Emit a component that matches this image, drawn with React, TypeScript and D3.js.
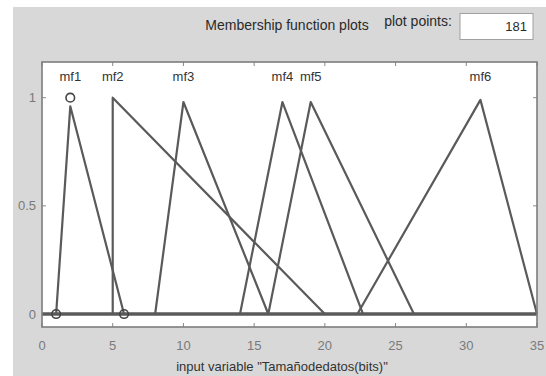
import React from "react";
import * as d3 from "d3";

// Triangular membership functions of the input variable (a = left foot, b = peak, c = right foot)
const mfNames = ["mf1", "mf2", "mf3", "mf4", "mf5", "mf6"];
const mfA = [1, 5, 8, 14, 16, 22.3];
const mfB = [2, 5, 10, 17, 19, 31];
const mfC = [5.8, 20, 16, 22.7, 26.3, 35];
const mfPeak = [0.96, 1, 0.98, 0.98, 0.98, 0.99];

const xTicks = [0, 5, 10, 15, 20, 25, 30, 35];
const yTicks = [0, 0.5, 1];
const yTickLabels = ["0", "0.5", "1"];

// vertices of the selected function (mf1)
const selectedIdx = 0;

const W = 546;
const H = 376;
const FONT = "'Liberation Sans', Arial, sans-serif";

export default function App() {
  const x = d3.scaleLinear().domain([0, 35]).range([42, 537]);
  const y = d3.scaleLinear().domain([-0.06, 1.165]).range([327, 62]);

  const line = d3
    .line<[number, number]>()
    .x((d) => x(d[0]))
    .y((d) => y(d[1]));

  const xMin = 0;
  const xMax = 35;

  const curves = mfNames.map((_, i) => {
    const pts: [number, number][] = [
      [xMin, 0],
      [mfA[i], 0],
      [mfB[i], mfPeak[i]],
      [mfC[i], 0],
      [xMax, 0],
    ];
    return line(pts) as string;
  });

  const left = x(xMin);
  const right = x(xMax);
  const top = y(1.165);
  const bottom = y(-0.06);
  const tickLen = 4;

  const sel = selectedIdx;
  const handles: [number, number][] = [
    [mfA[sel], 0],
    [mfB[sel], 1],
    [mfC[sel], 0],
  ];

  return (
    <svg
      width={W}
      height={H}
      style={{ position: "absolute", left: 0, top: 0, display: "block" }}
    >
      <rect x={0} y={0} width={W} height={H} fill="#ffffff" />
      <rect x={13} y={7} width={W - 13} height={H - 7} fill="#d8d8d8" />

      {/* header */}
      <text
        x={287}
        y={30}
        textAnchor="middle"
        fontFamily={FONT}
        fontSize={14}
        fill="#2a2a2a"
      >
        Membership function plots
      </text>
      <text
        x={418}
        y={26}
        textAnchor="middle"
        fontFamily={FONT}
        fontSize={14}
        fill="#2a2a2a"
      >
        plot points:
      </text>
      <rect x={460} y={13.5} width={73} height={26} fill="#ffffff" stroke="#a0a0a0" strokeWidth={1} />
      <text
        x={527}
        y={31}
        textAnchor="end"
        fontFamily={FONT}
        fontSize={13}
        fill="#2a2a2a"
      >
        181
      </text>

      {/* plot area */}
      <rect x={left} y={top} width={right - left} height={bottom - top} fill="#ffffff" />

      {/* ticks, pointing inward on all four sides */}
      {xTicks.map((t) => (
        <g key={"xt" + t}>
          <line x1={x(t)} x2={x(t)} y1={top} y2={top + tickLen} stroke="#888" strokeWidth={1} />
          <line x1={x(t)} x2={x(t)} y1={bottom} y2={bottom - tickLen} stroke="#888" strokeWidth={1} />
          <text
            x={x(t)}
            y={350}
            textAnchor="middle"
            fontFamily={FONT}
            fontSize={13}
            fill="#7a7a7a"
          >
            {t}
          </text>
        </g>
      ))}
      {yTicks.map((t, i) => (
        <g key={"yt" + t}>
          <line x1={left} x2={left + tickLen} y1={y(t)} y2={y(t)} stroke="#888" strokeWidth={1} />
          <line x1={right} x2={right - tickLen} y1={y(t)} y2={y(t)} stroke="#888" strokeWidth={1} />
          <text
            x={36}
            y={y(t) + 4.5}
            textAnchor="end"
            fontFamily={FONT}
            fontSize={13}
            fill="#7a7a7a"
          >
            {yTickLabels[i]}
          </text>
        </g>
      ))}

      {/* membership function curves */}
      {curves.map((d, i) => (
        <path
          key={mfNames[i]}
          d={d}
          fill="none"
          stroke="#5a5a5a"
          strokeWidth={2.2}
          strokeLinejoin="round"
        />
      ))}
      <line x1={left} x2={right} y1={y(0)} y2={y(0)} stroke="#5a5a5a" strokeWidth={3.5} />

      {/* handles of the selected function */}
      {handles.map((p, i) => (
        <circle
          key={"h" + i}
          cx={x(p[0])}
          cy={y(p[1])}
          r={4.3}
          fill="none"
          stroke="#444"
          strokeWidth={1.6}
        />
      ))}

      {/* function names above the peaks */}
      {mfNames.map((n, i) => (
        <text
          key={"lb" + n}
          x={x(mfB[i])}
          y={y(1.1) + 5}
          textAnchor="middle"
          fontFamily={FONT}
          fontSize={13}
          fill="#333"
        >
          {n}
        </text>
      ))}

      {/* frame */}
      <rect
        x={left}
        y={top}
        width={right - left}
        height={bottom - top}
        fill="none"
        stroke="#7d7d7d"
        strokeWidth={1.6}
      />

      <text
        x={282}
        y={371}
        textAnchor="middle"
        fontFamily={FONT}
        fontSize={13}
        fill="#333"
      >
        input variable "Tamañodedatos(bits)"
      </text>
    </svg>
  );
}
